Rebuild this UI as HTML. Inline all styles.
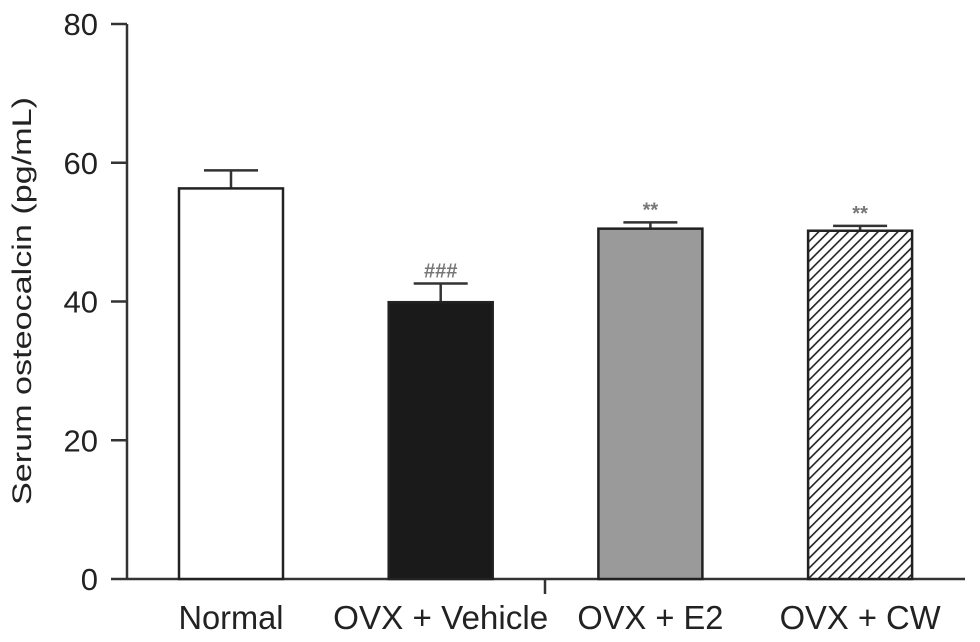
<!DOCTYPE html>
<html><head><meta charset="utf-8"><style>
html,body{margin:0;padding:0;background:#fff;}
svg{display:block;font-family:"Liberation Sans",Arial,sans-serif;}
</style></head><body>
<svg id="chart" width="980" height="642" viewBox="0 0 980 642">
<defs>
<pattern id="hatch" patternUnits="userSpaceOnUse" width="7" height="7" patternTransform="rotate(45)">
<rect width="7" height="7" fill="#fff"/>
<line x1="0" y1="0" x2="0" y2="7" stroke="#222" stroke-width="3.2"/>
</pattern>
</defs>
<g id="plot"></g>
</svg>
<script>
const categories = ["Normal", "OVX + Vehicle", "OVX + E2", "OVX + CW"];
const values = [56.3, 39.9, 50.5, 50.2];
const errors = [2.6, 2.7, 0.9, 0.7];
const marks = ["", "###", "**", "**"];
const yTicks = [0, 20, 40, 60, 80];

const NS = "http://www.w3.org/2000/svg";
const g = document.getElementById("plot");
const y0 = 579, yTop = 24, yMax = 80;
const yScale = v => y0 - (v / yMax) * (y0 - yTop);
const barLeft0 = 179, barStep = 209.7, barW = 104;
const xLeft = i => barLeft0 + i * barStep;
const fills = ["#fff", "#1a1a1a", "#9a9a9a", "url(#hatch)"];
const labelLen = [105, 215, 146, 161];
function el(tag, attrs) {
  const e = document.createElementNS(NS, tag);
  for (const k in attrs) e.setAttribute(k, attrs[k]);
  g.appendChild(e);
  return e;
}
let a = el("line", {x1:127, y1:yTop, x2:127, y2:y0, stroke:"#333", "stroke-width":2.5});


yTicks.forEach(t => {
  const y = yScale(t);
  const tk = el("line", {x1:111, y1:y, x2:127, y2:y, stroke:"#333", "stroke-width":2.5});
  
  
  const tl = el("text", {x:98, y:y+11, "text-anchor":"end", "font-size":31, fill:"#222"});
  tl.textContent = t;
  
  
});
const yt = el("text", {x:0, y:0, transform:"translate(31,301) rotate(-90)", "text-anchor":"middle", "font-size":27, fill:"#222", textLength:408, lengthAdjust:"spacingAndGlyphs"});
yt.textContent = "Serum osteocalcin (pg/mL)";


const xa = el("line", {x1:127, y1:y0, x2:965, y2:y0, stroke:"#333", "stroke-width":2.5});


const mt = el("line", {x1:545, y1:y0, x2:545, y2:594, stroke:"#333", "stroke-width":2.5});


categories.forEach((c, i) => {
  const x = xLeft(i), cx = x + barW/2;
  const top = yScale(values[i]);
  const et = yScale(values[i] + errors[i]);
  const eb = el("line", {x1:cx, y1:top, x2:cx, y2:et, stroke:"#333", "stroke-width":2.5});
  
  
  const cap = el("line", {x1:cx-27, y1:et, x2:cx+27, y2:et, stroke:"#333", "stroke-width":2.5});
  
  
  const r = el("rect", {x:x, y:top, width:barW, height:y0-top, fill:fills[i], stroke:"#222", "stroke-width":2.5});
  
  
  if (marks[i]) {
    const m = el("text", {x:cx, y:et-6, "text-anchor":"middle", "font-size":20, "font-weight":"bold", fill:"#777"});
    m.textContent = marks[i];
    
    
  }
  const lb = el("text", {x:cx, y:629, "text-anchor":"middle", "font-size":33, fill:"#222", textLength:labelLen[i], lengthAdjust:"spacingAndGlyphs"});
  lb.textContent = c;
  
  
});
</script>
</body></html>
